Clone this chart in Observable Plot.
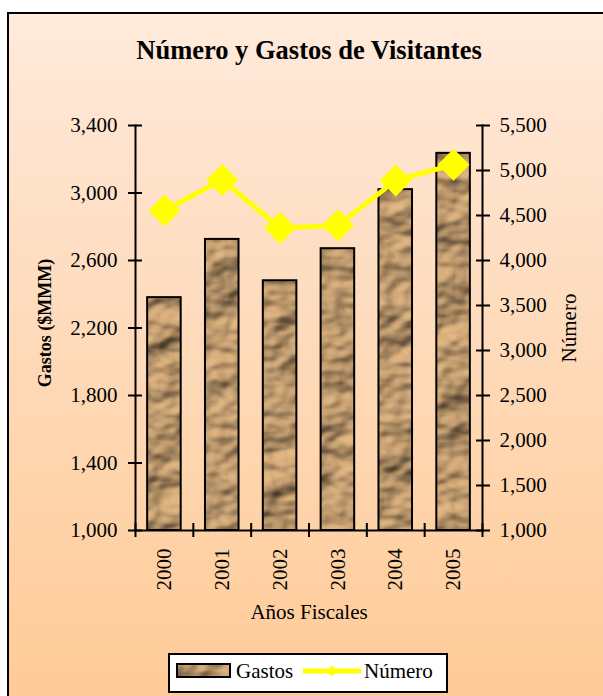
<!DOCTYPE html>
<html>
<head>
<meta charset="utf-8">
<script src="https://cdn.jsdelivr.net/npm/d3@7"></script>
<script src="https://cdn.jsdelivr.net/npm/@observablehq/plot@0.6"></script>
<style>
  html, body { margin: 0; padding: 0; width: 603px; height: 696px; overflow: hidden; background: #fff; }
  #wrap { position: relative; width: 603px; height: 696px; font-family: "Liberation Serif", "Times New Roman", serif; }
  #bg { position: absolute; left: 7px; top: 12px; width: 640px; height: 720px; box-sizing: border-box;
        border-left: 2px solid #000; border-top: 2px solid #000;
        background: linear-gradient(to bottom, #ffeadb 0%, #fedcbe 40%, #ffcc99 92%, #ffcc99 100%); }
  #title { position: absolute; left: 0; width: 618px; top: 37px; text-align: center; font-weight: bold; font-size: 26.5px; line-height: 26.5px; color: #000; }
  #plot { position: absolute; left: 0; top: 0; }
  #legend { position: absolute; left: 168px; top: 653px; width: 280px; height: 40px; box-sizing: border-box; border: 2px solid #000; background: #fff; font-size: 21px; }
  #legend .t { position: absolute; top: 6px; line-height: 21px; }
</style>
</head>
<body>
<div id="wrap">
  <div id="bg"></div>
  <div id="title">Número y Gastos de Visitantes</div>
  <div id="plot"></div>
  <div id="legend">
    <svg style="position:absolute;left:6px;top:8px" width="56" height="16">
      <rect x="1" y="1" width="53" height="13" fill="url(#tex)" stroke="#000" stroke-width="2"></rect>
    </svg>
    <span class="t" style="left:66px">Gastos</span>
    <svg style="position:absolute;left:133px;top:5px" width="60" height="24">
      <line x1="0" y1="11" x2="58" y2="11" stroke="#ffff00" stroke-width="5"></line>
      <path d="M29,5.5L34.5,11L29,16.5L23.5,11Z" fill="#ffff00"></path>
    </svg>
    <span class="t" style="left:194px">Número</span>
  </div>
</div>
<script>
const years = [2000, 2001, 2002, 2003, 2004, 2005];
const gastos = [2380, 2725, 2480, 2670, 3020, 3235];
const numero = [4555, 4895, 4360, 4390, 4890, 5065];
const gastosTicks = [1000, 1400, 1800, 2200, 2600, 3000, 3400];
const numeroTicks = [1000, 1500, 2000, 2500, 3000, 3500, 4000, 4500, 5000, 5500];
const titleText = "Número y Gastos de Visitantes";
const xLabel = "Años Fiscales";
const yLeftLabel = "Gastos ($MMM)";
const yRightLabel = "Número";

const gMin = gastosTicks[0], gMax = gastosTicks[gastosTicks.length - 1];
const nMin = numeroTicks[0], nMax = numeroTicks[numeroTicks.length - 1];
const toLeft = n => gMin + (n - nMin) * (gMax - gMin) / (nMax - nMin);
const fromLeft = g => nMin + (g - gMin) * (nMax - nMin) / (gMax - gMin);

const data = years.map((y, i) => ({year: y, gastos: gastos[i], numero: numero[i]}));
const bounds = [...years.map(y => y - 0.5), years[years.length - 1] + 0.5];
const half = 0.29;
const fmt = d3.format(",");

const chart = Plot.plot({
  width: 603,
  height: 696,
  marginLeft: 135,
  marginRight: 121,
  marginTop: 125,
  marginBottom: 166,
  style: {background: "transparent", fontFamily: "'Liberation Serif', 'Times New Roman', serif", fontSize: "21px", color: "#000", overflow: "visible"},
  x: {type: "linear", domain: [bounds[0], bounds[bounds.length - 1]], axis: null},
  y: {domain: [gMin, gMax], axis: null},
  marks: [
    Plot.rect(data, {x1: d => d.year - half, x2: d => d.year + half, y1: gMin, y2: "gastos", fill: "url(#tex)"}),
    Plot.rect(data, {x1: d => d.year - half, x2: d => d.year + half, y1: gMin, y2: "gastos", fill: "none", stroke: "#000", strokeWidth: 2}),
    Plot.frame({anchor: "left", stroke: "#000", strokeWidth: 2}),
    Plot.frame({anchor: "right", stroke: "#000", strokeWidth: 2}),
    Plot.frame({anchor: "bottom", stroke: "#000", strokeWidth: 2}),
    Plot.axisY(gastosTicks, {anchor: "left", tickSize: 14, dx: 7, tickPadding: 11, strokeWidth: 2, tickFormat: fmt, label: null}),
    Plot.axisY(numeroTicks.map(toLeft), {anchor: "right", tickSize: 14, dx: -7, tickPadding: 10, strokeWidth: 2, tickFormat: d => fmt(Math.round(fromLeft(d))), label: null}),
    Plot.axisX(years, {anchor: "bottom", tickSize: 0, tickPadding: 18, tickRotate: -90, tickFormat: d => String(d), label: null}),
    Plot.axisX(bounds, {anchor: "bottom", tickSize: 14, dy: -7, strokeWidth: 2, tickFormat: () => "", label: null}),
    Plot.line(data, {x: "year", y: d => toLeft(d.numero), stroke: "#ffff00", strokeWidth: 5}),
    Plot.dot(data, {x: "year", y: d => toLeft(d.numero), symbol: "diamond2", r: 14.4, fill: "#ffff00", stroke: null}),
    Plot.text([xLabel], {frameAnchor: "bottom", dy: 88, lineAnchor: "bottom", fontSize: 21, fill: "#000"}),
    Plot.text([yLeftLabel], {frameAnchor: "left", dx: -90, dy: -5, rotate: -90, textAnchor: "middle", lineAnchor: "middle", fontSize: 18, fontWeight: "bold", fill: "#000"}),
    Plot.text([yRightLabel], {frameAnchor: "right", dx: 87, rotate: -90, textAnchor: "middle", lineAnchor: "middle", fontSize: 21, fill: "#000"})
  ]
});

const ns = "http://www.w3.org/2000/svg";
const defs = document.createElementNS(ns, "defs");
defs.innerHTML = `
  <filter id="texf" x="0" y="0" width="1" height="1" color-interpolation-filters="sRGB">
    <feTurbulence type="fractalNoise" baseFrequency="0.022 0.03" numOctaves="3" seed="11" result="n"/>
    <feDiffuseLighting in="n" surfaceScale="8" diffuseConstant="0.95" lighting-color="#f0c28a" result="lit">
      <feDistantLight azimuth="235" elevation="55"/>
    </feDiffuseLighting>
  </filter>
  <pattern id="tex" patternUnits="userSpaceOnUse" x="0" y="0" width="603" height="696">
    <rect width="603" height="696" filter="url(#texf)"/>
  </pattern>`;
chart.insertBefore(defs, chart.firstChild);
document.getElementById("plot").appendChild(chart);
document.getElementById("title").textContent = titleText;
</script>
</body>
</html>
